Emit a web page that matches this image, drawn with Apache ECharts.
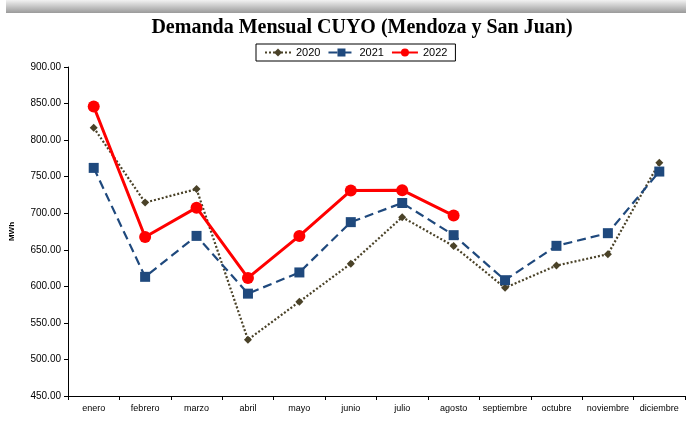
<!DOCTYPE html>
<html><head><meta charset="utf-8">
<script src="https://cdn.jsdelivr.net/npm/echarts@6/dist/echarts.min.js"></script>
<style>html,body{margin:0;padding:0;background:#fff}#c{width:686px;height:423px}</style>
</head><body><div id="c"></div>
<script>
const categories = ['enero','febrero','marzo','abril','mayo','junio','julio','agosto','septiembre','octubre','noviembre','diciembre'];
const values2020 = [817, 714.6, 733, 527, 579, 631, 694.6, 655, 598, 628.4, 644, 769];
const values2021 = [762, 613, 669, 590, 619, 687.8, 714, 670, 608.4, 655.4, 672.7, 757];
const values2022 = [846, 667.5, 707.6, 611.5, 669, 731, 731.5, 696.8];
const yTicks = {min: 450, max: 900, interval: 50};

const chart = echarts.init(document.getElementById('c'));
chart.setOption({
  animation: false,
  backgroundColor: '#fff',
  graphic: [{
    type: 'rect', left: 6, top: 0, shape: {width: 680, height: 13}, silent: true,
    style: {fill: new echarts.graphic.LinearGradient(0,0,0,1,[{offset:0,color:'#f2f2f2'},{offset:1,color:'#9a9a9a'}])}
  }],
  title: {
    text: 'Demanda Mensual CUYO (Mendoza y San Juan)',
    left: 357, textAlign: 'center', top: 13,
    textStyle: {fontFamily: 'Liberation Serif', fontWeight: 'bold', fontSize: 20, color: '#000'}
  },
  legend: {
    top: 44, left: 256,
    orient: 'horizontal',
    borderColor: '#000', borderWidth: 1, borderRadius: 0,
    padding: [3, 8, 3, 8],
    itemWidth: 26, itemHeight: 10, itemGap: 7,
    textStyle: {fontFamily: 'Liberation Sans', fontSize: 11, color: '#000'},
    data: ['2020','2021','2022']
  },
  grid: {left: 67, right: 1, top: 67, bottom: 27, containLabel: false},
  xAxis: {
    type: 'category', data: categories, boundaryGap: true,
    axisLine: {lineStyle: {color: '#000', width: 1}},
    axisTick: {show: true, length: 4, lineStyle: {color: '#000'}},
    axisLabel: {fontFamily: 'Liberation Sans', fontSize: 9, color: '#000', margin: 8, interval: 0}
  },
  yAxis: {
    type: 'value', min: yTicks.min, max: yTicks.max, interval: yTicks.interval,
    name: 'MWh', nameLocation: 'middle', nameRotate: 90, nameGap: 52,
    nameTextStyle: {fontFamily: 'Liberation Sans', fontSize: 8, fontWeight: 'bold', color: '#000'},
    axisLine: {show: true, lineStyle: {color: '#000', width: 1}},
    axisTick: {show: true, length: 4, lineStyle: {color: '#000'}},
    splitLine: {show: false},
    axisLabel: {fontFamily: 'Liberation Sans', fontSize: 10, color: '#000', margin: 7,
      formatter: v => v.toFixed(2)}
  },
  series: [
    {name: '2020', type: 'line', data: values2020, symbol: 'diamond', symbolSize: 8,
     itemStyle: {color: '#4a4228'}, lineStyle: {color: '#4a4228', width: 2.2, type: [2, 2]}, z: 2},
    {name: '2021', type: 'line', data: values2021, symbol: 'rect', symbolSize: 10,
     itemStyle: {color: '#1f497d'}, lineStyle: {color: '#1f497d', width: 2.2, type: [9, 5]}, z: 3},
    {name: '2022', type: 'line', data: values2022, symbol: 'circle', symbolSize: 12,
     itemStyle: {color: '#ff0000'}, lineStyle: {color: '#ff0000', width: 3}, z: 4}
  ]
});
</script></body></html>
